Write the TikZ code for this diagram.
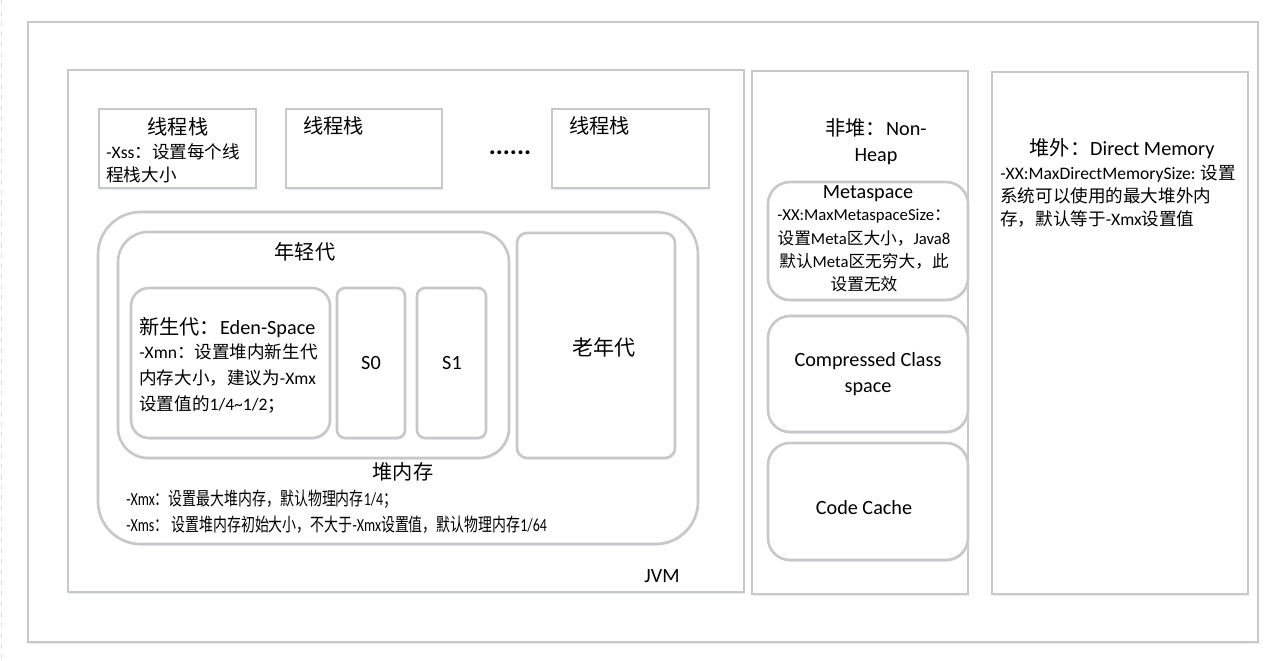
\documentclass[tikz,border=0pt]{standalone}
\usepackage{fontspec}
\setmainfont{Carlito}
\newfontfamily\cjk{Noto Sans CJK SC}
\newcommand{\zh}[1]{{\cjk #1}}
\usepackage{tikz}
\usetikzlibrary{fit,shadows}

\definecolor{boxgray}{RGB}{200,200,200}
\definecolor{glow}{RGB}{228,237,248}

\tikzset{
  box/.style={draw=boxgray, line width=1.5pt, fill=white, inner sep=0pt,
    drop shadow={shadow xshift=0.5pt, shadow yshift=-0.9pt, fill=glow, opacity=1}},
  title/.style={font=\fontsize{11.5}{14.7}\selectfont, inner sep=0pt},
  note/.style={font=\fontsize{10}{13}\selectfont, inner sep=0pt, align=left, anchor=north west},
}

\begin{document}
\begin{tikzpicture}[x=0.02cm,y=-0.02cm]
    \useasboundingbox (0,0) rectangle (1272,660);
    \draw[boxgray!60, dashed, line width=0.5pt] (1,0) -- (1,660);

    % frames
    \node[box, fit={(28,22) (1258,642)}] (outer) {};
    \node[box, fit={(68,70) (744,592)}] (jvm) {};
    \node[title] (jvmlabel) at (662,576) {JVM};

    % thread stacks
    \node[box, fit={(99,109) (256,188)}] (stack1) {};
    \node[box, fit={(286,109) (442,188)}] (stack2) {};
    \node[box, fit={(552,109) (709,188)}] (stack3) {};
    \node[title] (stack1title) at (178,127) {\zh{线程栈}};
    \node[note] (xss) at (106,143) {-Xss\zh{：设置每个线}\\\zh{程栈大小}};
    \node[title, anchor=west] (stack2title) at (303,126) {\zh{线程栈}};
    \node[title, anchor=west] (stack3title) at (569,126) {\zh{线程栈}};
    \node[title, font=\fontsize{15}{16}\selectfont\bfseries] (dots) at (510,153) {......};

    % heap
    \node[box, rounded corners=0.85cm, fit={(98,212) (698,544)}] (heap) {};
    \node[box, rounded corners=0.6cm, fit={(118,232) (509,458)}] (young) {};
    \node[title] (younglabel) at (305,252) {\zh{年轻代}};
    \node[box, rounded corners=0.36cm, fit={(131,288) (330,438)}] (eden) {};
    \node[title, anchor=west] (edentitle) at (139,328) {\zh{新生代：}Eden-Space};
    \node[note, font=\fontsize{10}{15}\selectfont] (xmn) at (139,343)
        {-Xmn\zh{：设置堆内新生代}\\\zh{内存大小，建议为}-Xmx\\\zh{设置值的}1/4\textasciitilde1/2\zh{；}};
    \node[box, rounded corners=0.16cm, fit={(337,288) (405,438)}] (s0) {};
    \node[box, rounded corners=0.16cm, fit={(417,288) (486,438)}] (s1) {};
    \node[title] (s0label) at (371,363) {S0};
    \node[title] (s1label) at (452,363) {S1};
    \node[box, rounded corners=0.2cm, fit={(517,233) (675,458)}] (old) {};
    \node[title, font=\fontsize{12}{14}\selectfont] (oldlabel) at (604,347) {\zh{老年代}};
    \node[title] (heaplabel) at (403,472) {\zh{堆内存}};
    \node[note, font=\fontsize{10.5}{14.7}\selectfont] (xmx) at (126,490)
        {\scalebox{0.755}[1]{-Xmx\zh{：设置最大堆内存，默认物理内存}1/4\zh{；}}\\
         \scalebox{0.755}[1]{-Xms\zh{：} \zh{设置堆内存初始大小，不大于}-Xmx\zh{设置值，默认物理内存}1/64}};

    % non-heap
    \node[box, fit={(752,71) (968,594)}] (nonheap) {};
    \node[title, align=center] (nonheaplabel) at (876,142) {\zh{非堆：}Non-\\Heap};
    \node[box, rounded corners=0.44cm, fit={(768,182) (968,300)}] (meta) {};
    \node[title] (metatitle) at (868,194) {Metaspace};
    \node[note, align=center, anchor=north, font=\fontsize{9.5}{13.3}\selectfont] (metanote) at (864,209)
        {-XX:MaxMetaspaceSize\zh{：}\\\zh{设置}Meta\zh{区大小，}Java8\\\zh{默认}Meta\zh{区无穷大，此}\\\zh{设置无效}};
    \node[box, rounded corners=0.44cm, fit={(768,316) (968,432)}] (ccs) {};
    \node[title, align=center] (ccslabel) at (868,374) {Compressed Class\\space};
    \node[box, rounded corners=0.44cm, fit={(768,443) (968,560)}] (codecache) {};
    \node[title] (codecachelabel) at (864,508) {Code Cache};

    % direct memory
    \node[box, fit={(992,72) (1248,594)}] (direct) {};
    \node[title] (directtitle) at (1122,149) {\zh{堆外：}Direct Memory};
    \node[note] (directnote) at (1000,165)
        {-XX:MaxDirectMemorySize: \zh{设置}\\\zh{系统可以使用的最大堆外内}\\\zh{存，默认等于}-Xmx\zh{设置值}};
\end{tikzpicture}
\end{document}
